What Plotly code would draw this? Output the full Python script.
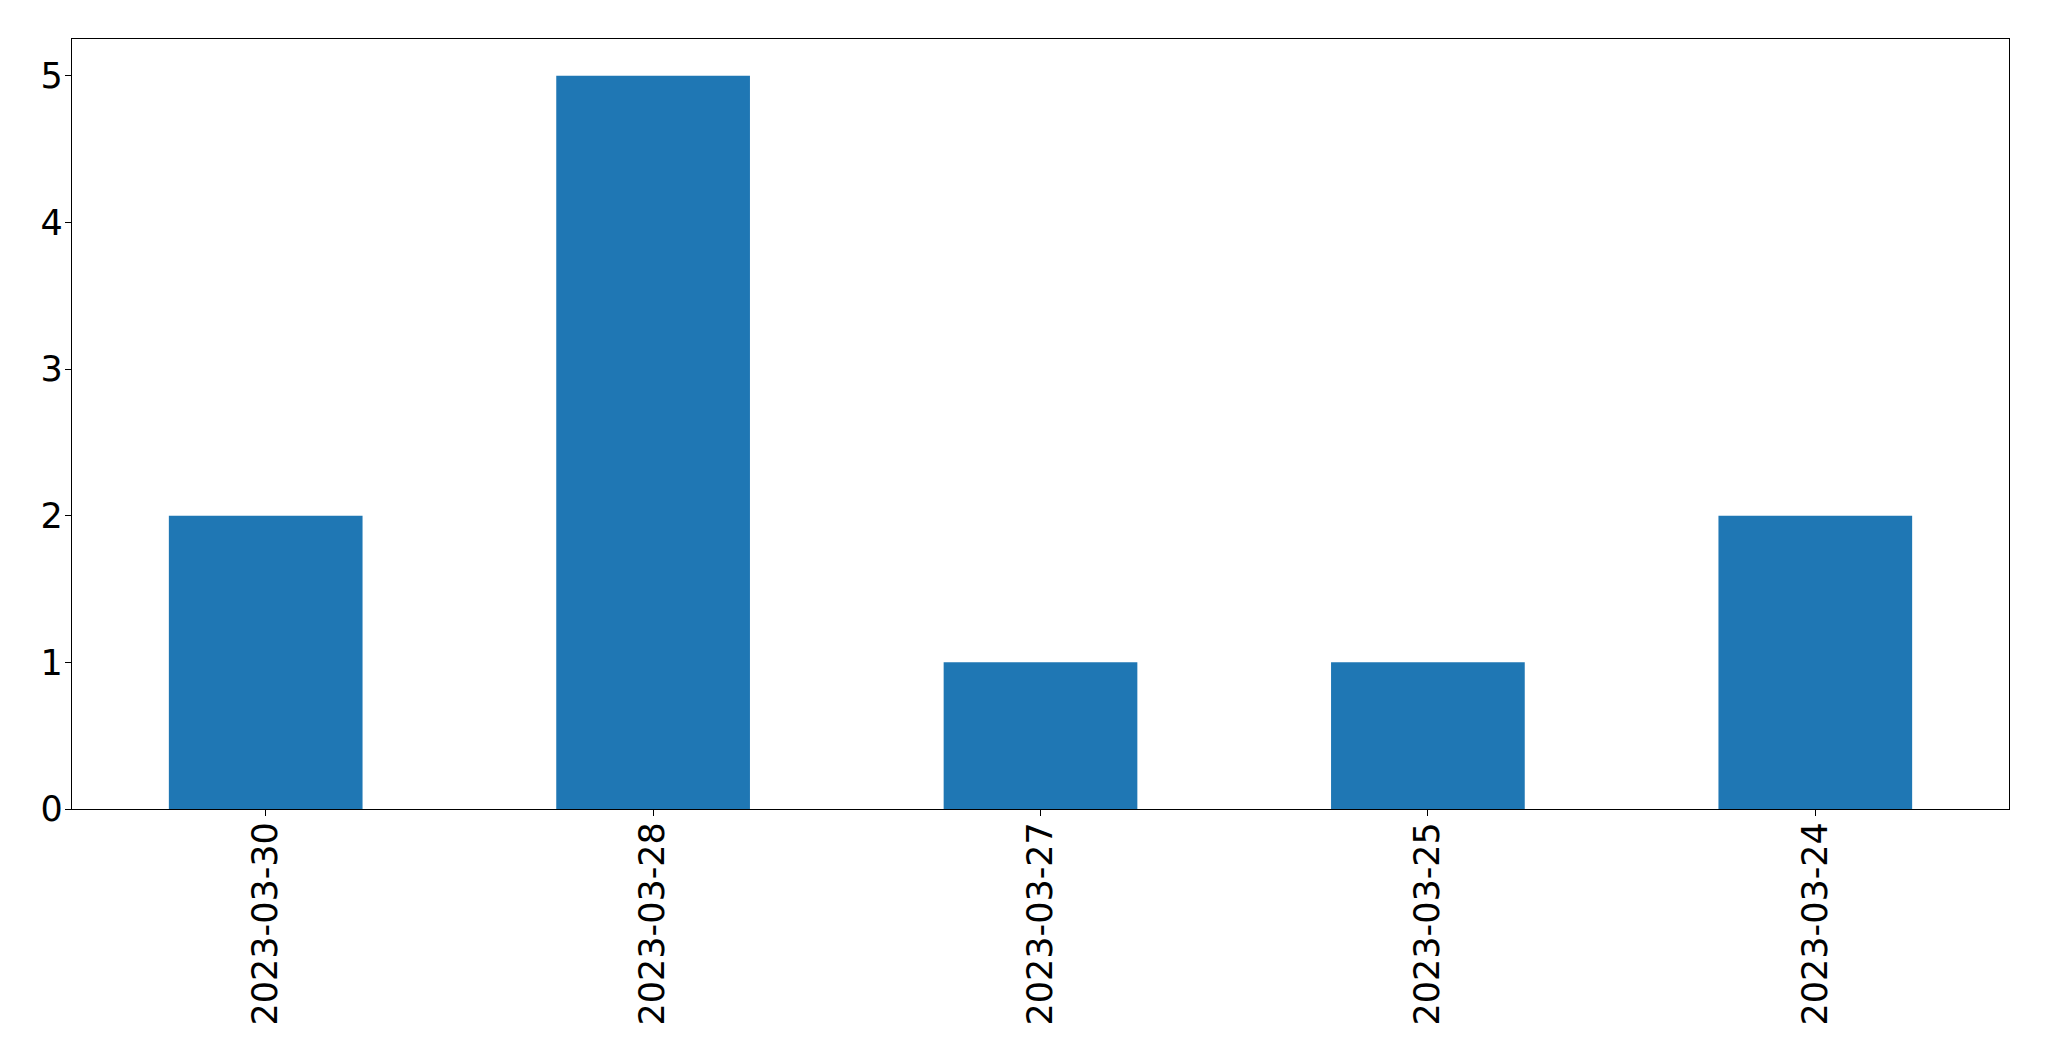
import plotly.graph_objects as go

dates = ["2023-03-30", "2023-03-28", "2023-03-27", "2023-03-25", "2023-03-24"]
counts = [2, 5, 1, 1, 2]
y_ticks = [0, 1, 2, 3, 4, 5]

fig = go.Figure(
    go.Bar(
        x=dates,
        y=counts,
        width=0.5,
        marker=dict(color="#1f77b4", line=dict(width=0)),
    )
)

fig.update_layout(
    width=2033,
    height=1045,
    margin=dict(l=64, r=32, t=31, b=244),
    paper_bgcolor="white",
    plot_bgcolor="white",
    showlegend=False,
    font=dict(family="DejaVu Sans", size=35, color="black"),
)

fig.update_xaxes(
    type="category",
    range=[-0.5, 4.5],
    tickangle=-90,
    showline=True,
    mirror=True,
    linecolor="black",
    linewidth=1.3,
    ticks="outside",
    ticklen=6,
    tickwidth=1.3,
    tickcolor="black",
    showgrid=False,
    zeroline=False,
    tickfont=dict(size=35),
    ticklabelstandoff=-8,
)

fig.update_yaxes(
    range=[0, 5.25],
    tickvals=y_ticks,
    showline=True,
    mirror=True,
    linecolor="black",
    linewidth=1.3,
    ticks="outside",
    ticklen=6,
    tickwidth=1.3,
    tickcolor="black",
    showgrid=False,
    zeroline=False,
    tickfont=dict(size=35),
    ticklabelstandoff=-5,
)

fig.write_html("out.html")
